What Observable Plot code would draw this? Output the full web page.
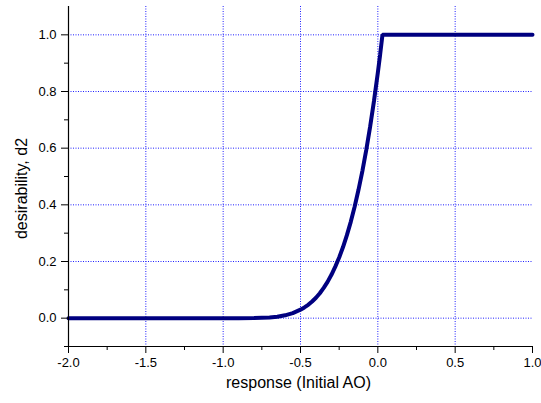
<!DOCTYPE html>
<html>
<head>
<meta charset="utf-8">
<script src="https://cdn.jsdelivr.net/npm/d3@7"></script>
<script src="https://cdn.jsdelivr.net/npm/@observablehq/plot@0.6"></script>
<style>
  html, body { margin: 0; padding: 0; background: #fff; }
</style>
</head>
<body>
<div id="chart"></div>
<script>
const xValues = [-2.0, -1.0, -0.9, -0.8, -0.7, -0.65, -0.6, -0.55, -0.5, -0.475, -0.45, -0.425, -0.4, -0.375, -0.35, -0.325, -0.3, -0.275, -0.25, -0.225, -0.2, -0.175, -0.15, -0.125, -0.1, -0.075, -0.05, -0.025, 0.0, 0.015, 0.03, 1.0];
const yValues = [0.0, 0.0, 0.0, 0.0003, 0.0025, 0.0053, 0.010, 0.018, 0.030, 0.038, 0.047, 0.059, 0.072, 0.088, 0.107, 0.128, 0.153, 0.182, 0.214, 0.251, 0.293, 0.340, 0.393, 0.453, 0.519, 0.593, 0.675, 0.766, 0.866, 0.931, 1.0, 1.0];
const xMajorTicks = [-2.0, -1.5, -1.0, -0.5, 0.0, 0.5, 1.0];
const xMinorTicks = [-1.75, -1.25, -0.75, -0.25, 0.25, 0.75];
const yMajorTicks = [0.0, 0.2, 0.4, 0.6, 0.8, 1.0];
const yMinorTicks = [-0.1, 0.1, 0.3, 0.5, 0.7, 0.9];
const xGrid = [-1.5, -1.0, -0.5, 0.0, 0.5];
const yGrid = [0.0, 0.2, 0.4, 0.6, 0.8, 1.0];
const xLabel = "response (Initial AO)";
const yLabel = "desirability, d2";

const data = xValues.map((x, i) => ({x, y: yValues[i]}));
const fmt = d => d.toFixed(1);
const gridStyle = {stroke: "#2020ff", strokeOpacity: 1, strokeDasharray: "1,1.5", strokeWidth: 1};

const chart = Plot.plot({
  width: 541,
  height: 403,
  marginLeft: 68,
  marginRight: 9,
  marginTop: 6,
  marginBottom: 57,
  style: {fontFamily: "'Liberation Sans', Arial, sans-serif", fontSize: "13px", color: "#000", background: "#fff"},
  x: {domain: [-2, 1], axis: null},
  y: {domain: [-0.1, 1.1], axis: null},
  marks: [
    Plot.gridX(xGrid, gridStyle),
    Plot.gridY(yGrid, gridStyle),
    Plot.line(data, {x: "x", y: "y", stroke: "#000080", strokeWidth: 4, strokeLinejoin: "miter"}),
    Plot.ruleX([-2], {stroke: "#000", strokeWidth: 1.2}),
    Plot.ruleY([-0.1], {stroke: "#000", strokeWidth: 1.2}),
    Plot.axisX({ticks: xMajorTicks, tickSize: 7, tickPadding: 4, tickFormat: fmt, fontSize: 13, label: null}),
    Plot.axisX({ticks: xMinorTicks, tickSize: 4, text: null, label: null}),
    Plot.axisY({ticks: yMajorTicks, tickSize: 7, tickPadding: 5, tickFormat: fmt, fontSize: 13, label: null}),
    Plot.axisY({ticks: yMinorTicks, tickSize: 4, text: null, label: null}),
    Plot.text([xLabel], {frameAnchor: "bottom", dx: -2, dy: 36, textAnchor: "middle", lineAnchor: "middle", fontSize: 16, fill: "#000"}),
    Plot.text([yLabel], {frameAnchor: "left", dx: -47, dy: 12, rotate: -90, textAnchor: "middle", lineAnchor: "middle", fontSize: 16, fill: "#000"})
  ]
});
document.getElementById("chart").appendChild(chart);
</script>
</body>
</html>
